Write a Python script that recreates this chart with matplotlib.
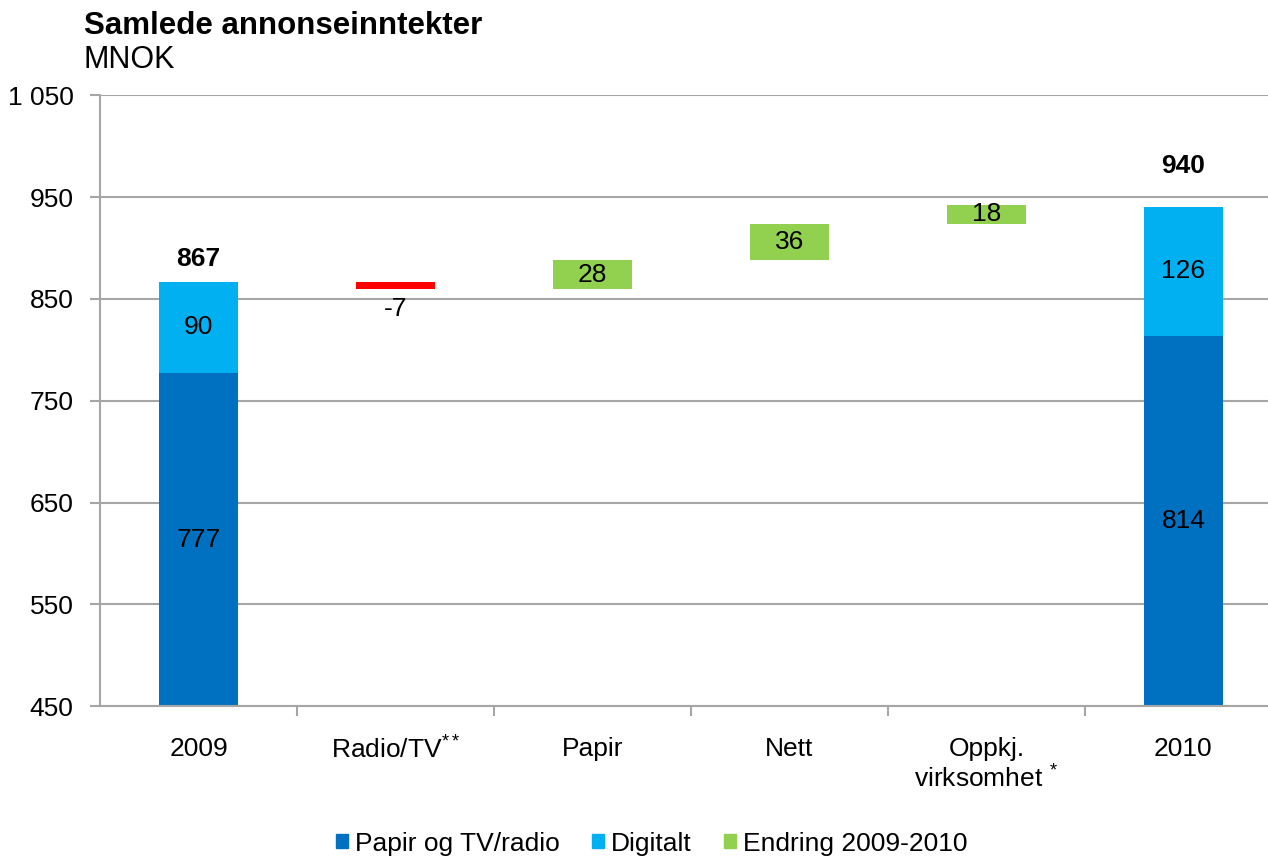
import matplotlib.pyplot as plt
from matplotlib.patches import Patch

# data
categories = ["2009", "Radio/TV$^{**}$", "Papir", "Nett", "Oppkj.\nvirksomhet $^{*}$", "2010"]
base_2009 = [777, 90]     # papir og TV/radio, digitalt
base_2010 = [814, 126]
changes = [-7, 28, 36, 18]  # Radio/TV, Papir, Nett, Oppkj. virksomhet
totals = [867, 940]

dark_blue = "#0070C0"
light_blue = "#00B0F0"
green = "#92D050"
red = "#FF0000"
grid_col = "#A6A6A6"

plt.rcParams["font.family"] = ["Liberation Sans", "DejaVu Sans"]
plt.rcParams["mathtext.fontset"] = "custom"
plt.rcParams["mathtext.rm"] = "Liberation Sans"
plt.rcParams["mathtext.it"] = "Liberation Sans"
plt.rcParams["mathtext.bf"] = "Liberation Sans:bold"

fig = plt.figure(figsize=(12.68, 8.59), dpi=100)
ax = fig.add_axes([0.0789, 0.178, 0.932, 0.711])

x = list(range(len(categories)))
w = 0.4
fs = 19
ymin = 450

# 2009 stacked bar
ax.bar(x[0], base_2009[0], w, bottom=0, color=dark_blue)
ax.bar(x[0], base_2009[1], w, bottom=base_2009[0], color=light_blue)
ax.text(x[0], (ymin + base_2009[0]) / 2, str(base_2009[0]), ha="center", va="center", fontsize=fs)
ax.text(x[0], base_2009[0] + base_2009[1] / 2, str(base_2009[1]), ha="center", va="center", fontsize=fs)
ax.annotate(str(totals[0]), (x[0], sum(base_2009)), xytext=(0, 8), textcoords="offset points",
            ha="center", va="bottom", fontsize=fs, fontweight="bold")

# change bars
level = sum(base_2009)
for i, c in enumerate(changes):
    xi = x[i + 1]
    col = red if c < 0 else green
    ax.bar(xi, c, w, bottom=level, color=col)
    if c < 0:
        ax.annotate(str(c), (xi, level + c), xytext=(0, -6), textcoords="offset points",
                    ha="center", va="top", fontsize=fs)
    else:
        ax.text(xi, level + c / 2, str(c), ha="center", va="center", fontsize=fs)
    level += c

# 2010 stacked bar
ax.bar(x[5], base_2010[0], w, bottom=0, color=dark_blue)
ax.bar(x[5], base_2010[1], w, bottom=base_2010[0], color=light_blue)
ax.text(x[5], (ymin + base_2010[0]) / 2, str(base_2010[0]), ha="center", va="center", fontsize=fs)
ax.text(x[5], base_2010[0] + base_2010[1] / 2, str(base_2010[1]), ha="center", va="center", fontsize=fs)
ax.annotate(str(totals[1]), (x[5], sum(base_2010)), xytext=(0, 21), textcoords="offset points",
            ha="center", va="bottom", fontsize=fs, fontweight="bold")

# axes formatting
ax.set_ylim(ymin, 1050)
ax.set_xlim(-0.5, 5.5)
yticks = list(range(ymin, 1051, 100))
ax.set_yticks(yticks)
ax.set_yticklabels([f"{v:,}".replace(",", " ") for v in yticks], fontsize=fs)
ax.yaxis.grid(True, color=grid_col, linewidth=1.5)
ax.set_axisbelow(True)
ax.set_xticks(x)
ax.set_xticklabels(categories, fontsize=fs, va="top")
ax.tick_params(axis="x", length=0, pad=22)
ax.set_xticks([i + 0.5 for i in x[:-1]], minor=True)
ax.tick_params(axis="x", which="minor", length=7, color=grid_col, width=1.5)
ax.tick_params(axis="y", length=7, color=grid_col, width=1.5, pad=12)
for s in ["top", "right"]:
    ax.spines[s].set_visible(False)
for s in ["left", "bottom"]:
    ax.spines[s].set_color(grid_col)
    ax.spines[s].set_linewidth(1.5)

# titles
fig.text(0.066, 0.96, "Samlede annonseinntekter", fontsize=22.5, fontweight="bold", va="baseline")
fig.text(0.066, 0.921, "MNOK", fontsize=22, va="baseline")

# legend
handles = [Patch(color=dark_blue, label="Papir og TV/radio"),
           Patch(color=light_blue, label="Digitalt"),
           Patch(color=green, label="Endring 2009-2010")]
fig.legend(handles=handles, loc="center", bbox_to_anchor=(0.514, 0.018), ncol=3, frameon=False,
           fontsize=fs, handlelength=0.45, handleheight=0.45, handletextpad=0.25, columnspacing=1.25)

plt.savefig("out.png", dpi=100)
